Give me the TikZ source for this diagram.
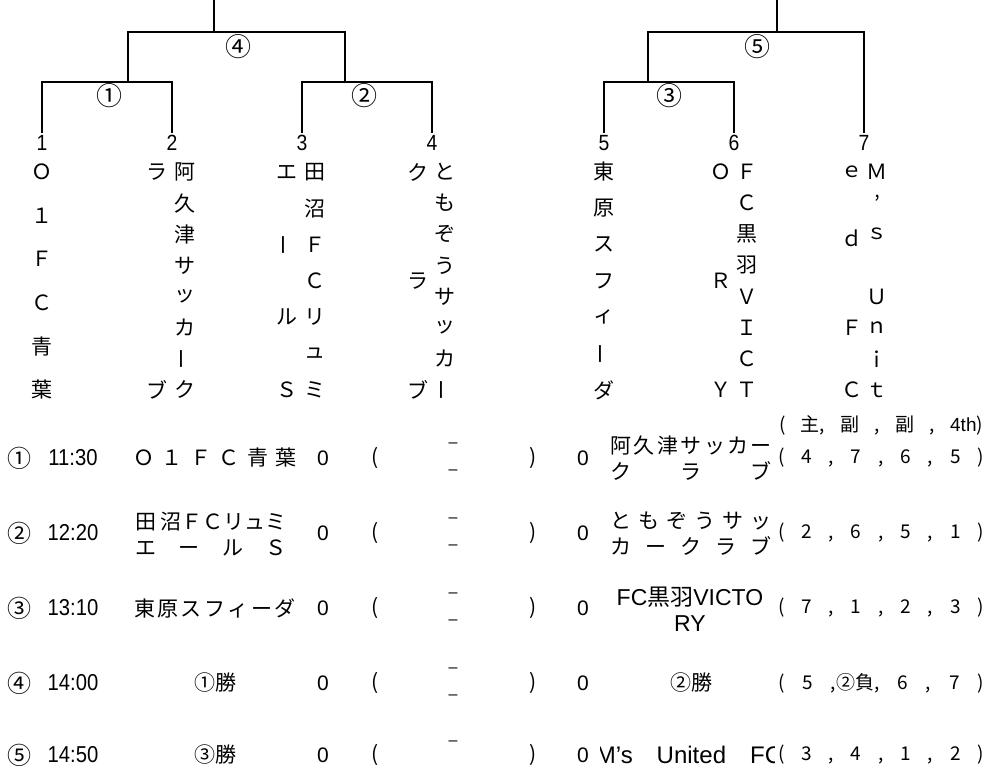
\documentclass[tikz,border=0pt]{standalone}
\usepackage{fontspec}
\setmainfont{Noto Sans CJK JP}
\newfontfamily\latfont{Liberation Sans}
\newfontfamily\narrowfont[FakeStretch=0.88]{Liberation Sans}
\usetikzlibrary{positioning}
\newcommand\tatebar{\rotatebox[origin=c]{90}{ー}}
\tikzset{
	bracket/.style={line width=1.6pt},
	tate/.style={inner sep=0pt, font=\fontsize{21}{21}\selectfont},
	teamno/.style={anchor=north, inner sep=0pt, font=\narrowfont\fontsize{22}{22}\selectfont},
	matchno/.style={inner sep=0pt, font=\fontsize{26}{26}\selectfont},
	cell/.style={inner sep=0pt, align=center, font=\fontsize{21}{26}\selectfont},
	roundno/.style={inner sep=0pt, font=\fontsize{24}{24}\selectfont},
	timecell/.style={inner sep=0pt, font=\narrowfont\fontsize{23}{23}\selectfont},
	score/.style={inner sep=0pt, font=\latfont\fontsize{21}{21}\selectfont},
	dashmark/.style={inner sep=0pt, font=\latfont\fontsize{16}{16}\selectfont},
	refcell/.style={inner sep=0pt, font=\fontsize{19}{19}\selectfont}
}

\begin{document}
\begin{tikzpicture}[x=1pt, y=-1pt]
				\useasboundingbox (0,0) rectangle (1002,769);
				
				% Team numbers
				\foreach \n/\x in {1/42, 2/172, 3/302, 4/432, 5/604, 6/734, 7/864}
					\node[teamno] (no\n) at (\x,135) {\n};
				
				% Bracket junctions
				\coordinate (m1) at (128,82);
				\coordinate (m2) at (345,82);
				\coordinate (m3) at (648,82);
				\coordinate (m4) at (214,32);
				\coordinate (m5) at (777,32);
				\coordinate (top4) at (214,0);
				\coordinate (top5) at (777,0);
				
				% Bracket lines
				\draw[bracket] ([yshift=2pt]no1.north) |- (m1) -| ([yshift=2pt]no2.north);
				\draw[bracket] ([yshift=2pt]no3.north) |- (m2) -| ([yshift=2pt]no4.north);
				\draw[bracket] ([yshift=2pt]no5.north) |- (m3) -| ([yshift=2pt]no6.north);
				\draw[bracket] (m1) |- (m4) -| (m2);
				\draw[bracket] (m3) |- (m5) -| ([yshift=2pt]no7.north);
				\draw[bracket] (m4) -- (top4);
				\draw[bracket] (m5) -- (top5);
				
				% Match labels
				\node[matchno] (lab1) at (109,96) {①};
				\node[matchno] (lab2) at (364,96) {②};
				\node[matchno] (lab3) at (669,96) {③};
				\node[matchno] (lab4) at (238,47) {④};
				\node[matchno] (lab5) at (757,47) {⑤};
				
				% Team names, written downwards
				\foreach \ch [count=\i from 0] in {Ｏ,１,Ｆ,Ｃ,青,葉}
					\node[tate] (ta\i) at (42,172+43.6*\i) {\ch};
				\foreach \ch [count=\i from 0] in {阿,久,津,サ,ッ,カ,\tatebar,ク}
					\node[tate] (tb\i) at (185,172+31.14*\i) {\ch};
				\foreach \ch/\y in {ラ/172, ブ/390}
					\node[tate] (tbl\y) at (157,\y) {\ch};
				\foreach \ch [count=\i from 0] in {田,沼,Ｆ,Ｃ,リ,ュ,ミ}
					\node[tate] (tc\i) at (315,172+36.33*\i) {\ch};
				\foreach \ch [count=\i from 0] in {エ,\tatebar,ル,Ｓ}
					\node[tate] (tcl\i) at (287,172+72.67*\i) {\ch};
				\foreach \ch [count=\i from 0] in {と,も,ぞ,う,サ,ッ,カ,\tatebar}
					\node[tate] (td\i) at (445,172+31.14*\i) {\ch};
				\foreach \ch [count=\i from 0] in {ク,ラ,ブ}
					\node[tate] (tdl\i) at (418,172+109*\i) {\ch};
				\foreach \ch [count=\i from 0] in {東,原,ス,フ,ィ,\tatebar,ダ}
					\node[tate] (te\i) at (604,172+36.33*\i) {\ch};
				\foreach \ch [count=\i from 0] in {Ｆ,Ｃ,黒,羽,Ｖ,Ｉ,Ｃ,Ｔ}
					\node[tate] (tf\i) at (747,172+31.14*\i) {\ch};
				\foreach \ch [count=\i from 0] in {Ｏ,Ｒ,Ｙ}
					\node[tate] (tfl\i) at (721,172+109*\i) {\ch};
				\foreach \ch [count=\i from 0] in {Ｍ,’,ｓ,{},Ｕ,ｎ,ｉ,ｔ}
					\node[tate] (tg\i) at (877,172+31.14*\i) {\ch};
				\foreach \ch/\y in {ｅ/172, ｄ/238, Ｆ/328, Ｃ/390}
					\node[tate] (tgl\y) at (852,\y) {\ch};
				
				% Referee heading
				\node[refcell] (refhead) at (881,425) {\makebox[204pt][s]{(\hfill 主,\hfill 副\hfill ,\hfill 副\hfill ,\hfill {\latfont 4th})}};
				
				% Schedule rows
				\foreach \n/\t/\y [count=\r] in {①/11:30/458, ②/12:20/533, ③/13:10/608, ④/14:00/683, ⑤/14:50/755} {
					\node[roundno] (gn\r) at (19,\y) {\n};
					\node[timecell] (tm\r) at (73,\y) {\t};
					\node[score] (sa\r) at (323,\y) {0};
					\node[cell] (lp\r) at (375,\y) {(};
					\node[cell] (rp\r) at (533,\y) {)};
					\node[score] (sb\r) at (583,\y) {0};
				}
				\foreach \y [count=\r] in {458,533,608,683} {
					\node[dashmark] (du\r) at (453,\y-13) {–};
					\node[dashmark] (dl\r) at (453,\y+14) {–};
				}
				\node[dashmark] (du5) at (453,743) {–};
				
				% Home teams
				\node[cell] (lt1) at (215,458) {\makebox[164pt][s]{Ｏ\hfill １\hfill Ｆ\hfill Ｃ\hfill 青\hfill 葉}};
				\node[cell] (lt2) at (211,534) {\makebox[152pt][s]{田\hfill 沼ＦＣリュミ}\\\makebox[152pt][s]{エ\hfill ー\hfill ル\hfill Ｓ}};
				\node[cell] (lt3) at (215,608) {\makebox[162pt][s]{東\hfill 原\hfill ス\hfill フ\hfill ィ\hfill ー\hfill ダ}};
				\node[cell] (lt4) at (215,683) {①勝};
				\node[cell] (lt5) at (215,755) {③勝};
				
				% Away teams
				\node[cell] (rt1) at (691,458) {\makebox[162pt][s]{阿\hfill 久\hfill 津\hfill サ\hfill ッ\hfill カ\hfill ー}\\\makebox[162pt][s]{ク\hfill ラ\hfill ブ}};
				\node[cell] (rt2) at (691,534) {\makebox[162pt][s]{と\hfill も\hfill ぞ\hfill う\hfill サ\hfill ッ}\\\makebox[162pt][s]{カ\hfill ー\hfill ク\hfill ラ\hfill ブ}};
				\node[cell, font=\fontsize{23}{26}\selectfont] (rt3) at (690,609) {{\latfont FC}黒羽{\latfont VICTO}\\{\latfont RY}};
				\node[cell] (rt4) at (691,683) {②勝};
				\begin{scope}
					\clip (600,733) rectangle (774,769);
					\node[cell, font=\latfont\fontsize{24}{24}\selectfont] (rt5) at (689,755) {M’s\hspace{24pt}United\hspace{24pt}FC};
				\end{scope}
				
				% Referees
				\node[refcell] (ref1) at (881,458) {\makebox[206pt][s]{(\hfill 4\hfill ,\hfill 7\hfill ,\hfill 6\hfill ,\hfill 5\hfill )}};
				\node[refcell] (ref2) at (881,533) {\makebox[206pt][s]{(\hfill 2\hfill ,\hfill 6\hfill ,\hfill 5\hfill ,\hfill 1\hfill )}};
				\node[refcell] (ref3) at (881,608) {\makebox[206pt][s]{(\hfill 7\hfill ,\hfill 1\hfill ,\hfill 2\hfill ,\hfill 3\hfill )}};
				\node[refcell] (ref4) at (881,683) {\makebox[206pt][s]{(\hfill 5\hfill ,②負,\hfill 6\hfill ,\hfill 7\hfill )}};
				\node[refcell] (ref5) at (881,755) {\makebox[206pt][s]{(\hfill 3\hfill ,\hfill 4\hfill ,\hfill 1\hfill ,\hfill 2\hfill )}};
			\end{tikzpicture}
\end{document}
